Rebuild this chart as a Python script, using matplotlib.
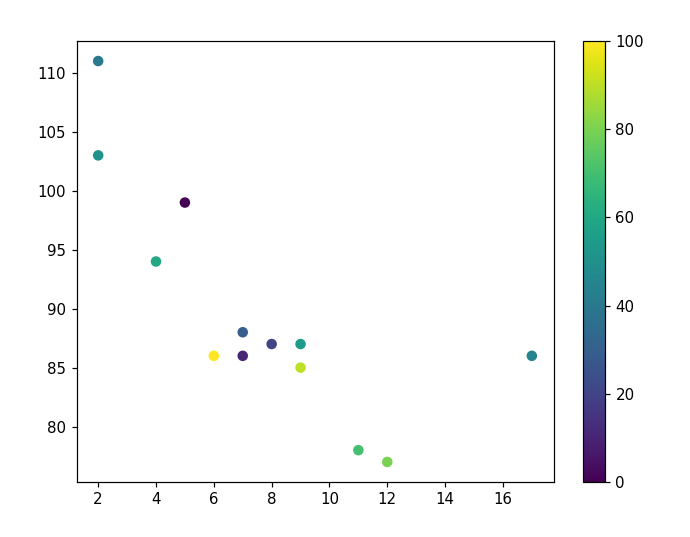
import numpy as np
import matplotlib
matplotlib.use("Agg")
import matplotlib.pyplot as plt

x = np.array([5, 7, 8, 7, 2, 17, 2, 9, 4, 11, 12, 9, 6])
y = np.array([99, 86, 87, 88, 111, 86, 103, 87, 94, 78, 77, 85, 86])
colors = np.array([0, 10, 20, 30, 40, 45, 50, 55, 60, 70, 80, 90, 100])

W, H, DPI = 690, 537, 108
fig = plt.figure(figsize=(W / DPI, H / DPI), dpi=DPI)
ax = fig.add_axes([76.5 / W, 1 - 482 / H, (553.5 - 76.5) / W, (482 - 41) / H])
cax = fig.add_axes([582.5 / W, 1 - 482 / H, (605 - 582.5) / W, (482 - 41) / H])

sc = ax.scatter(x, y, c=colors, cmap="viridis")
fig.colorbar(sc, cax=cax)

fig.savefig("out.png", dpi=DPI)
